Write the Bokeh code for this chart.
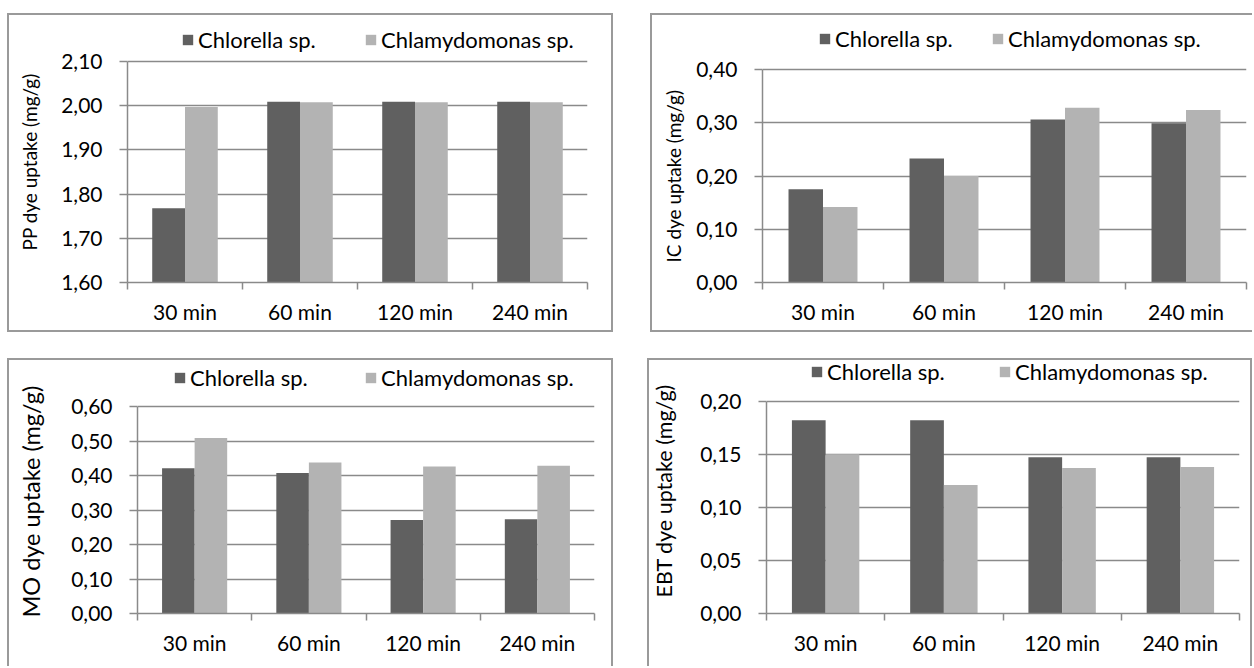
from bokeh.plotting import figure
from bokeh.models import (FixedTicker, CustomJSTickFormatter, Legend, LegendItem,
                          Range1d, Spacer, ColumnDataSource, Title, LinearAxis)
from bokeh.layouts import row, column
from bokeh.embed import file_html
from bokeh.resources import INLINE

# ---------------- data ----------------
categories = ["30 min", "60 min", "120 min", "240 min"]
series_names = ["Chlorella sp.", "Chlamydomonas sp."]

pp_chlorella = [1.768, 2.009, 2.009, 2.009]
pp_chlamydomonas = [1.997, 2.008, 2.008, 2.008]
pp_ticks = [1.60, 1.70, 1.80, 1.90, 2.00, 2.10]

ic_chlorella = [0.175, 0.233, 0.306, 0.299]
ic_chlamydomonas = [0.142, 0.200, 0.328, 0.324]
ic_ticks = [0.00, 0.10, 0.20, 0.30, 0.40]

mo_chlorella = [0.421, 0.407, 0.271, 0.273]
mo_chlamydomonas = [0.509, 0.438, 0.426, 0.428]
mo_ticks = [0.00, 0.10, 0.20, 0.30, 0.40, 0.50, 0.60]

ebt_chlorella = [0.182, 0.182, 0.147, 0.147]
ebt_chlamydomonas = [0.150, 0.121, 0.137, 0.138]
ebt_ticks = [0.00, 0.05, 0.10, 0.15, 0.20]

# ---------------- style ----------------
FONT = "Lato"
DARK = "#606060"
LIGHT = "#b3b3b3"
GRID = "#8a8a8a"
BORDER = "#9a9a9a"
TICK_FS = "21px"
LEG_FS = "22px"
BAR_W = 0.285


def panel(title, title_fs, title_gap, title_offset, a, b, yticks, width, height,
          left, right, top, bottom, top_tick_px, leg1_x, leg2_x, leg_y, sides):
    """top_tick_px: distance (px) from frame top down to the top tick gridline."""
    ymin, ymax = yticks[0], yticks[-1]
    fh = height - top - bottom
    span_px = fh - top_tick_px
    y_end = ymin + (ymax - ymin) * fh / span_px
    n = len(categories)
    shadows = []
    if "l" in sides:
        shadows.append(f"inset 2px 0 0 {BORDER}")
    if "r" in sides:
        shadows.append(f"inset -2px 0 0 {BORDER}")
    if "t" in sides:
        shadows.append(f"inset 0 2px 0 {BORDER}")
    if "b" in sides:
        shadows.append(f"inset 0 -2px 0 {BORDER}")
    p = figure(width=width, height=height,
               x_range=Range1d(0, n), y_range=Range1d(ymin, y_end),
               output_backend="svg", toolbar_location=None,
               min_border_left=left, min_border_right=right,
               min_border_top=top, min_border_bottom=bottom,
               background_fill_color=None, border_fill_color=None,
               outline_line_color=None,
               styles={"box-shadow": ", ".join(shadows)})
    xs = [i + 0.5 for i in range(n)]
    src = ColumnDataSource(dict(
        x1=[x - BAR_W / 2 for x in xs], x2=[x + BAR_W / 2 for x in xs],
        a=a, b=b, cat=categories))
    r1 = p.vbar(x="x1", top="a", bottom=ymin, width=BAR_W, source=src,
                fill_color=DARK, line_color=None)
    r2 = p.vbar(x="x2", top="b", bottom=ymin, width=BAR_W, source=src,
                fill_color=LIGHT, line_color=None)

    # x axis: labels at centres, ticks at category boundaries
    xa = p.xaxis[0]
    xa.ticker = FixedTicker(ticks=xs, minor_ticks=list(range(n + 1)))
    xa.formatter = CustomJSTickFormatter(args=dict(labels=categories),
                                         code="return labels[Math.round(tick - 0.5)];")
    xa.major_tick_out = 0
    xa.major_tick_in = 0
    xa.minor_tick_out = 7
    xa.minor_tick_in = 0
    xa.minor_tick_line_color = GRID
    xa.minor_tick_line_width = 1.5
    xa.axis_line_color = GRID
    xa.axis_line_width = 1.5
    xa.major_label_text_font = FONT
    xa.major_label_text_font_size = TICK_FS
    xa.major_label_text_color = "black"
    xa.major_label_standoff = 9

    ya = p.yaxis[0]
    ya.ticker = FixedTicker(ticks=yticks, minor_ticks=[])
    ya.bounds = (ymin, ymax)
    ya.formatter = CustomJSTickFormatter(code="return tick.toFixed(2).replace('.', ',');")
    ya.major_tick_out = 8
    ya.major_tick_in = 0
    ya.major_tick_line_color = GRID
    ya.major_tick_line_width = 1.5
    ya.minor_tick_line_color = None
    ya.axis_line_color = GRID
    ya.axis_line_width = 1.5
    ya.major_label_text_font = FONT
    ya.major_label_text_font_size = TICK_FS
    ya.major_label_text_color = "black"
    ya.major_label_standoff = 17

    # blank axis (white tick on white, no labels) used only as a gap before the title
    gap_axis = LinearAxis(ticker=FixedTicker(ticks=[ymin], minor_ticks=[]),
                          formatter=CustomJSTickFormatter(code="return '';"),
                          major_tick_out=title_gap, major_tick_in=0,
                          major_tick_line_color="white", major_tick_line_width=1,
                          minor_tick_line_color=None,
                          axis_line_color=None, major_label_standoff=0,
                          major_label_text_color=None)
    p.add_layout(gap_axis, "left")

    # y-axis title, placed along the frame from its bottom
    t = Title(text=title, align="left", offset=title_offset, standoff=0,
              vertical_align="bottom",
              text_font=FONT, text_font_size=title_fs, text_font_style="normal",
              text_color="black")
    p.add_layout(t, "left")

    p.xgrid.visible = False
    p.ygrid.grid_line_color = GRID
    p.ygrid.grid_line_width = 1.5

    for r, name, lx in ((r1, series_names[0], leg1_x), (r2, series_names[1], leg2_x)):
        leg = Legend(items=[LegendItem(label=name, renderers=[r])],
                     location=(lx, leg_y), orientation="horizontal",
                     glyph_width=13, glyph_height=13, label_standoff=4,
                     padding=0, margin=0, border_line_color=None,
                     background_fill_alpha=0,
                     label_text_font=FONT, label_text_font_size=LEG_FS,
                     label_text_color="black")
        p.add_layout(leg)
    return p


#  title, fs, gap, offset, a, b, ticks, w, h, left, right, top, bottom, top_tick_px, leg1, leg2, leg_y, sides
p1 = panel("PP dye uptake (mg/g)", "19px", 18, 32, pp_chlorella, pp_chlamydomonas, pp_ticks,
           606, 319, 120, 26, 12, 50, 36, 54, 237, 229, "lrtb")
p2 = panel("IC dye uptake (mg/g)", "19px", 9, 20, ic_chlorella, ic_chlamydomonas, ic_ticks,
           602, 319, 112, 6, 12, 50, 44, 56, 229, 230, "ltb")
p3 = panel("MO dye uptake (mg/g)", "23.5px", 24, -4, mo_chlorella, mo_chlamydomonas, mo_ticks,
           606, 308, 130, 19, 0, 53, 48, 36, 227, 222, "lrt")
p4 = panel("EBT dye uptake (mg/g)", "21.5px", 21, 16, ebt_chlorella, ebt_chlamydomonas, ebt_ticks,
           605, 308, 119, 13, 0, 50, 43, 44, 232, 228, "lrt")

layout = column(
    Spacer(width=10, height=13),
    row(Spacer(width=7, height=10), p1, Spacer(width=37, height=10), p2),
    Spacer(width=10, height=26),
    row(Spacer(width=7, height=10), p3, Spacer(width=34, height=10), p4),
)

open("out.html", "w").write(file_html(layout, INLINE))
